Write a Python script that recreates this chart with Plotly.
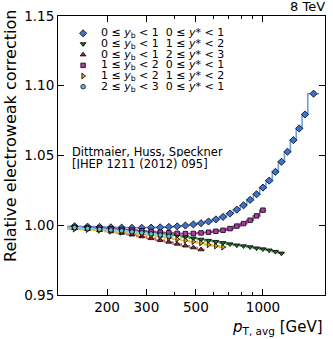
import plotly.graph_objects as go

# bin edges of p_T,avg (GeV)
edges = [133, 153, 174, 196, 220, 245, 272, 300, 330, 362, 395, 430, 468, 507, 548,
         592, 638, 686, 737, 790, 846, 905, 967, 1032, 1101, 1172, 1248, 1327, 1410,
         1497, 1588, 1784]

# electroweak correction per bin
yb0_ys0 = [0.9993, 0.9990, 0.9988, 0.9985, 0.9983, 0.9982, 0.9982, 0.9983, 0.9985,
           0.9988, 0.9992, 0.9998, 1.0006, 1.0015, 1.0027, 1.0042, 1.0060, 1.0084,
           1.0112, 1.0143, 1.0182, 1.0222, 1.0270, 1.0320, 1.0383, 1.0455, 1.0527,
           1.0610, 1.0694, 1.0794, 1.0943]
yb0_ys1 = [0.9983, 0.9980, 0.9976, 0.9972, 0.9967, 0.9962, 0.9956, 0.9949, 0.9942,
           0.9934, 0.9926, 0.9917, 0.9907, 0.9898, 0.9890, 0.9882, 0.9874, 0.9865,
           0.9857, 0.9851, 0.9844, 0.9836, 0.9829, 0.9821, 0.9811, 0.9799]
yb0_ys2 = [0.9978, 0.9972, 0.9964, 0.9955, 0.9944, 0.9932, 0.9919, 0.9906, 0.9893,
           0.9880, 0.9866, 0.9853, 0.9840, 0.9826]
yb1_ys0 = [0.9986, 0.9983, 0.9979, 0.9975, 0.9970, 0.9965, 0.9960, 0.9955, 0.9950,
           0.9946, 0.9942, 0.9940, 0.9941, 0.9945, 0.9950, 0.9957, 0.9964, 0.9976,
           0.9994, 1.0012, 1.0036, 1.0067, 1.0108]
yb1_ys1 = [0.9972, 0.9968, 0.9963, 0.9957, 0.9950, 0.9943, 0.9935, 0.9927, 0.9918,
           0.9909, 0.9900, 0.9891, 0.9882, 0.9873, 0.9860, 0.9851, 0.9843]
yb2_ys0 = [0.9983, 0.9977, 0.9971, 0.9966, 0.9960, 0.9953, 0.9946, 0.9938, 0.9930,
           0.9921]

labels = [
    '0 ≤ <i>y</i><sub>b</sub> &lt; 1  0 ≤ <i>y</i>* &lt; 1',
    '0 ≤ <i>y</i><sub>b</sub> &lt; 1  1 ≤ <i>y</i>* &lt; 2',
    '0 ≤ <i>y</i><sub>b</sub> &lt; 1  2 ≤ <i>y</i>* &lt; 3',
    '1 ≤ <i>y</i><sub>b</sub> &lt; 2  0 ≤ <i>y</i>* &lt; 1',
    '1 ≤ <i>y</i><sub>b</sub> &lt; 2  1 ≤ <i>y</i>* &lt; 2',
    '2 ≤ <i>y</i><sub>b</sub> &lt; 3  0 ≤ <i>y</i>* &lt; 1',
]
all_vals = [yb0_ys0, yb0_ys1, yb0_ys2, yb1_ys0, yb1_ys1, yb2_ys0]
symbols = ['diamond', 'triangle-down', 'triangle-up', 'square', 'triangle-right', 'circle']
marker_sizes = [5.5, 5, 5, 4.5, 5, 4.5]
marker_colors = ['#3f72c8', '#236b2b', '#8e3030', '#b03c9c', '#d8a421', '#5cc3d8']
line_colors = ['#6b9de3', '#3c9a46', '#d06a6a', '#8a4aa6', '#e8b830', '#7fd3e3']

x_ticks = [200, 300, 500, 1000]
x_minor = [400, 600, 700, 800, 900]
y_ticks = [0.95, 1.00, 1.05, 1.10, 1.15]

fig = go.Figure()

# step lines
for vals, lcol in zip(all_vals, line_colors):
    n = len(vals)
    fig.add_trace(go.Scatter(
        x=edges[:n + 1], y=vals + [vals[-1]],
        mode='lines', line=dict(color=lcol, width=1.6, shape='hv'),
        showlegend=False, hoverinfo='skip'))

# markers at bin centres
for lab, vals, sym, ms, mcol in zip(labels, all_vals, symbols, marker_sizes, marker_colors):
    n = len(vals)
    centres = [(edges[i] + edges[i + 1]) / 2 for i in range(n)]
    fig.add_trace(go.Scatter(
        x=centres, y=vals, mode='markers', name=lab, showlegend=False,
        marker=dict(symbol=sym, color=mcol, size=ms,
                    line=dict(color='black', width=0.8))))

# hand-made legend (tight row spacing like the original)
leg_top, leg_step = 0.938, 0.0383
for i, (lab, sym, ms, mcol) in enumerate(zip(labels, symbols, marker_sizes, marker_colors)):
    yy = leg_top - i * leg_step
    fig.add_trace(go.Scatter(
        x=[0.094], y=[yy], xaxis='x2', yaxis='y2', mode='markers',
        showlegend=False, hoverinfo='skip',
        marker=dict(symbol=sym, color=mcol, size=ms,
                    line=dict(color='black', width=0.8))))
    fig.add_annotation(text=lab, xref='paper', yref='paper', x=0.155, y=yy,
                       xanchor='left', yanchor='middle', showarrow=False,
                       height=10, font=dict(size=11, color='black'))

fig.add_annotation(
    text='Dittmaier, Huss, Speckner', xref='paper', yref='paper', x=0.045, y=0.514,
    xanchor='left', yanchor='middle', showarrow=False, height=11,
    font=dict(size=11.5, color='black'))
fig.add_annotation(
    text='[JHEP 1211 (2012) 095]', xref='paper', yref='paper', x=0.045, y=0.472,
    xanchor='left', yanchor='middle', showarrow=False, height=11,
    font=dict(size=11.5, color='black'))
fig.add_annotation(
    text='8 TeV', xref='paper', yref='paper', x=1.008, y=1.0, xanchor='right',
    yanchor='bottom', showarrow=False, font=dict(size=13, color='black'))
fig.add_annotation(
    text='<i>p</i><sub>T, avg</sub> [GeV]', xref='paper', yref='paper', x=1.0, y=-0.075,
    xanchor='right', yanchor='top', showarrow=False, font=dict(size=15, color='black'))
fig.add_annotation(
    text='Relative electroweak correction', xref='paper', yref='paper', x=-0.176, y=0.57,
    xanchor='center', yanchor='middle', textangle=-90, showarrow=False,
    font=dict(size=16, color='black'))

fig.update_layout(
    width=333, height=339,
    margin=dict(l=58, r=8, t=16, b=44),
    paper_bgcolor='white', plot_bgcolor='white',
    font=dict(family='DejaVu Sans', color='black'),
    showlegend=False,
    xaxis=dict(
        type='log', range=[2.081, 3.278], automargin=False,
        tickvals=x_ticks, ticktext=[str(v) for v in x_ticks],
        ticks='inside', ticklen=6, tickcolor='black', tickwidth=1,
        minor=dict(tickvals=x_minor, ticks='inside', ticklen=3, tickcolor='black'),
        showline=True, linecolor='black', linewidth=1, mirror='allticks',
        showgrid=False, zeroline=False, tickfont=dict(size=13.5)),
    yaxis=dict(
        range=[0.95, 1.15], automargin=False,
        tickvals=y_ticks, ticktext=['%.2f' % v for v in y_ticks],
        ticks='inside', ticklen=6, tickcolor='black', tickwidth=1,
        showline=True, linecolor='black', linewidth=1, mirror='allticks',
        showgrid=False, zeroline=False, tickfont=dict(size=13.5)),
    xaxis2=dict(overlaying='x', range=[0, 1], visible=False),
    yaxis2=dict(overlaying='y', range=[0, 1], visible=False),
)

fig.write_html('out.html', config={'displayModeBar': False},
               post_script="document.body.style.margin='0';")
